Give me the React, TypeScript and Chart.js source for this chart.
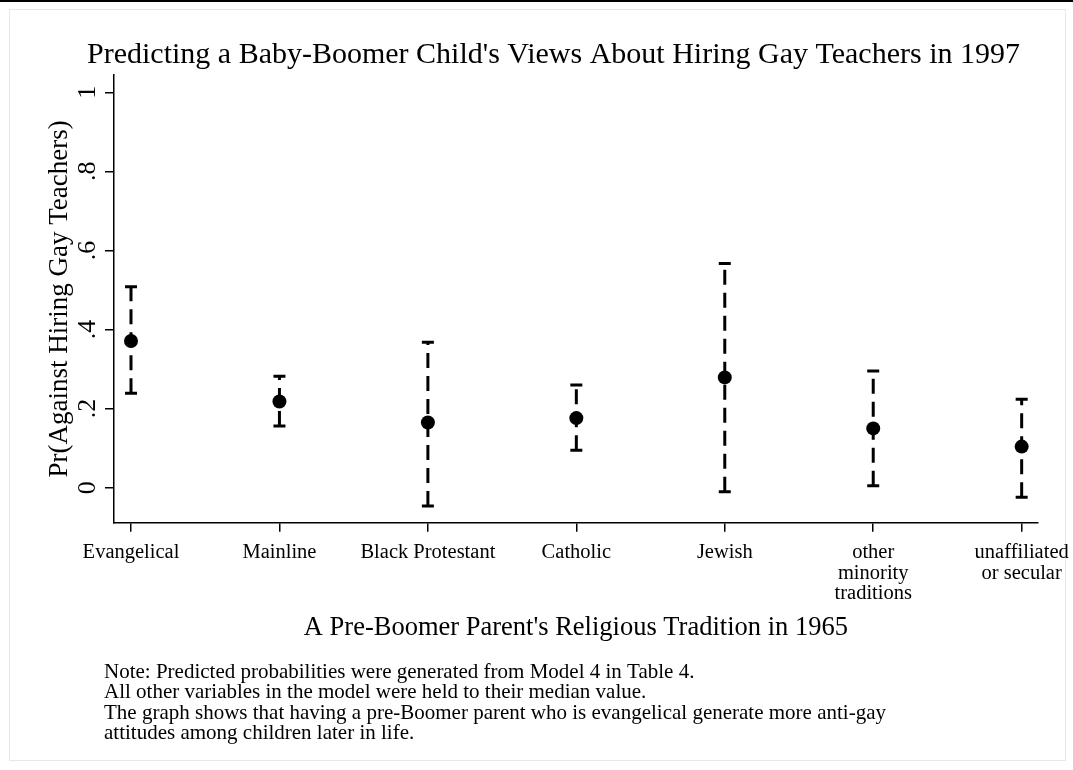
import React, { useEffect, useRef } from "react";
import { Chart, registerables } from "chart.js";

Chart.register(...registerables);

const categories: string[][] = [
  ["Evangelical"],
  ["Mainline"],
  ["Black Protestant"],
  ["Catholic"],
  ["Jewish"],
  ["other", "minority", "traditions"],
  ["unaffiliated", "or secular"],
];
const estimates = [0.371, 0.218, 0.165, 0.176, 0.279, 0.15, 0.104];
const lowerBounds = [0.239, 0.156, -0.046, 0.095, -0.01, 0.005, -0.024];
const upperBounds = [0.508, 0.282, 0.368, 0.26, 0.567, 0.295, 0.224];
const yTickValues = [0, 0.2, 0.4, 0.6, 0.8, 1];
const yTickLabels = ["0", ".2", ".4", ".6", ".8", "1"];

const chartTitle =
  "Predicting a Baby-Boomer Child's Views About Hiring Gay Teachers in 1997";
const yAxisTitle = "Pr(Against Hiring Gay Teachers)";
const xAxisTitle = "A Pre-Boomer Parent's Religious Tradition in 1965";
const noteLines = [
  "Note: Predicted probabilities were generated from Model 4 in Table 4.",
  "All other variables in the model were held to their median value.",
  "The graph shows that having a pre-Boomer parent who is evangelical generate more anti-gay",
  "attitudes among children later in life.",
];

const W = 1073;
const H = 770;
const FONT = '"Liberation Serif", "Times New Roman", serif';

const textPlugin = {
  id: "stataText",
  beforeDraw(chart: any) {
    const ctx = chart.ctx as CanvasRenderingContext2D;
    ctx.save();
    ctx.fillStyle = "#ffffff";
    ctx.fillRect(0, 0, W, H);
    ctx.fillStyle = "#000000";
    ctx.fillRect(0, 0, W, 2);
    ctx.strokeStyle = "#e8e8e8";
    ctx.lineWidth = 1;
    ctx.strokeRect(9.5, 9.5, 1056, 751);
    ctx.restore();
  },
  afterDraw(chart: any) {
    const ctx = chart.ctx as CanvasRenderingContext2D;
    const xs = chart.scales.x;
    const ys = chart.scales.y;
    const area = chart.chartArea;
    ctx.save();
    ctx.fillStyle = "#000000";
    ctx.textBaseline = "alphabetic";

    // title
    ctx.font = `30px ${FONT}`;
    ctx.textAlign = "left";
    ctx.fillText(chartTitle, 87, 63);

    // y tick labels (rotated)
    ctx.font = `26px ${FONT}`;
    ctx.textAlign = "center";
    yTickValues.forEach((v, i) => {
      const py = ys.getPixelForValue(v);
      ctx.save();
      ctx.translate(95, py);
      ctx.rotate(-Math.PI / 2);
      ctx.fillText(yTickLabels[i], 0, 0);
      ctx.restore();
    });

    // y axis title
    ctx.font = `27px ${FONT}`;
    ctx.save();
    ctx.translate(66.7, (area.top + area.bottom) / 2);
    ctx.rotate(-Math.PI / 2);
    ctx.fillText(yAxisTitle, 0, 0);
    ctx.restore();

    // x tick labels
    ctx.font = `20.5px ${FONT}`;
    categories.forEach((lines, i) => {
      const px = xs.getPixelForValue(i);
      lines.forEach((t, k) => ctx.fillText(t, px, 558.3 + k * 20.5));
    });

    // x axis title
    ctx.font = `26.5px ${FONT}`;
    ctx.fillText(xAxisTitle, (area.left + area.right) / 2, 634.5);

    // notes
    ctx.font = `21px ${FONT}`;
    ctx.textAlign = "left";
    noteLines.forEach((t, k) => ctx.fillText(t, 104, 677.7 + k * 20.5));
    ctx.restore();
  },
};

export default function App() {
  const ref = useRef<HTMLCanvasElement>(null);
  useEffect(() => {
    const pointData = estimates.map((v, i) => ({ x: i, y: v }));
    const barData: { x: number; y: number | null }[] = [];
    categories.forEach((_, i) => {
      barData.push({ x: i, y: lowerBounds[i] });
      barData.push({ x: i, y: upperBounds[i] });
      barData.push({ x: i, y: null });
    });
    const axisGrid = {
      drawOnChartArea: false,
      drawTicks: true,
      tickLength: 9,
      color: "#000000",
      lineWidth: 1.5,
    };
    const axisBorder = { display: true, color: "#000000", width: 1.5 };
    const chart = new Chart(ref.current as HTMLCanvasElement, {
      type: "scatter",
      data: {
        datasets: [
          {
            label: "Predicted probability",
            data: pointData,
            pointRadius: 7,
            pointHoverRadius: 7,
            pointBackgroundColor: "#000000",
            pointBorderWidth: 0,
            showLine: false,
          },
          {
            label: "Confidence interval",
            data: barData as any,
            showLine: true,
            spanGaps: false,
            borderColor: "#000000",
            borderWidth: 3,
            borderDash: [15, 8],
            pointStyle: "line",
            pointRadius: 6,
            pointHoverRadius: 6,
            pointBorderColor: "#000000",
            pointBorderWidth: 3,
          },
        ],
      },
      options: {
        animation: false,
        responsive: false,
        devicePixelRatio: 1,
        layout: { padding: { left: 0, top: 75, right: W - 1037.7, bottom: 0 } },
        plugins: {
          legend: { display: false },
          tooltip: { enabled: false },
          title: { display: false },
        },
        scales: {
          x: {
            type: "linear",
            min: -0.1145,
            max: 6.108,
            afterBuildTicks: (s: any) => {
              s.ticks = categories.map((_, i) => ({ value: i }));
            },
            afterFit: (s: any) => {
              s.height = H - 522.7;
            },
            ticks: { display: false },
            grid: axisGrid,
            border: axisBorder,
          },
          y: {
            type: "linear",
            min: -0.0885,
            max: 1.0437,
            afterBuildTicks: (s: any) => {
              s.ticks = yTickValues.map((v) => ({ value: v }));
            },
            afterFit: (s: any) => {
              s.width = 114;
            },
            ticks: { display: false },
            grid: axisGrid,
            border: axisBorder,
          },
        },
      } as any,
      plugins: [textPlugin],
    });
    return () => chart.destroy();
  }, []);
  return (
    <div
      style={{
        position: "absolute",
        left: 0,
        top: 0,
        width: W,
        height: H,
        background: "#ffffff",
      }}
    >
      <canvas
        ref={ref}
        width={W}
        height={H}
        style={{ display: "block", width: W, height: H }}
      />
    </div>
  );
}
